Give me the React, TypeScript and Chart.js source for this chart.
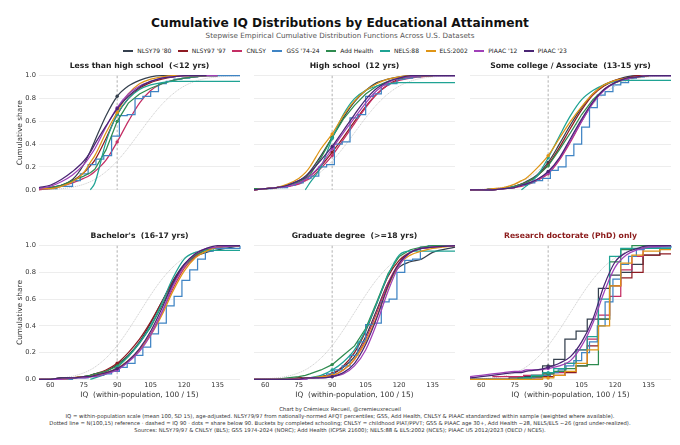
import React, { useEffect, useRef } from 'react';
import { Chart, registerables, Plugin } from 'chart.js';

Chart.register(...registerables);

const FONT = "'DejaVu Sans', 'Liberation Sans', sans-serif";

// common IQ grid the ECDFs are read on (GSS vocabulary has its own coarse steps)
const IQ_GRID = [55, 60, 65, 70, 75, 78, 80, 85, 90, 95, 100, 105, 110, 115, 120, 125, 130, 135, 145];
const GSS_IQ = [56, 63, 70, 73.5, 77, 80.5, 84, 87.5, 91, 94.5, 98, 101.5, 105, 108.5, 112, 115.5, 119, 122.5, 126, 129.5, 133, 145];
const X_TICKS = [60, 75, 90, 105, 120, 135];
const Y_TICKS = [0, 0.2, 0.4, 0.6, 0.8, 1.0];
const CUTOFF_IQ = 90;

const SERIES_NAMES = ["NLSY79 '80", "NLSY97 '97", 'CNLSY', "GSS '74-24", 'Add Health', 'NELS:88', 'ELS:2002', "PIAAC '12", "PIAAC '23"];
const SERIES_COLORS = ['#35404e', '#8e1b22', '#c42e64', '#3f84c4', '#2e8b4f', '#1fa394', '#df9516', '#a040b8', '#4a2574'];

// N(100,15) reference, on IQ_GRID
const NORMAL_REF = [0.001, 0.004, 0.01, 0.023, 0.048, 0.071, 0.091, 0.159, 0.252, 0.369, 0.5, 0.631, 0.748, 0.841, 0.909, 0.952, 0.977, 0.99, 0.999];

// rows follow SERIES_NAMES; row 3 (GSS) is on GSS_IQ, the rest on IQ_GRID
const LESS_THAN_HS = [
  [0.01, 0.02, 0.04, 0.09, 0.22, 0.34, 0.43, 0.65, 0.82, 0.91, 0.96, 0.99, 1.0, 1.0, 1.0, 1.0, 1.0, null, null],
  [0.01, 0.02, 0.04, 0.08, 0.15, 0.21, 0.26, 0.45, 0.66, 0.8, 0.89, 0.94, 0.97, 0.99, 1.0, 1.0, 1.0, 1.0, null],
  [0.0, 0.01, 0.03, 0.06, 0.1, 0.13, 0.16, 0.26, 0.42, 0.6, 0.76, 0.87, 0.93, 0.96, 0.98, 0.99, 1.0, 1.0, null],
  [0.01, 0.03, 0.08, 0.14, 0.22, 0.27, 0.3, 0.47, 0.65, 0.66, 0.8, 0.82, 0.86, 0.93, 0.95, 0.97, 0.98, 0.99, 1.0, 1.0, 1.0, 1.0],
  [0.01, 0.02, 0.04, 0.08, 0.12, 0.15, 0.18, 0.35, 0.6, 0.76, 0.84, 0.89, 0.93, 0.96, 0.98, 0.99, 1.0, 1.0, null],
  [null, null, null, null, null, 0.0, 0.06, 0.42, 0.66, 0.8, 0.88, 0.92, 0.94, 0.95, 0.95, 0.95, 0.95, 0.95, 0.95],
  [0.01, 0.01, 0.03, 0.07, 0.15, 0.24, 0.3, 0.5, 0.68, 0.84, 0.93, 0.97, 0.99, 1.0, 1.0, 1.0, 1.0, null, null],
  [0.01, 0.03, 0.07, 0.13, 0.22, 0.3, 0.36, 0.55, 0.72, 0.84, 0.91, 0.95, 0.98, 0.99, 1.0, 1.0, 1.0, 1.0, null],
  [0.02, 0.04, 0.09, 0.16, 0.25, 0.33, 0.4, 0.56, 0.71, 0.82, 0.9, 0.95, 0.98, 0.99, 1.0, 1.0, 1.0, null, null],
];

const HIGH_SCHOOL = [
  [0.0, 0.01, 0.02, 0.04, 0.08, 0.12, 0.16, 0.3, 0.46, 0.63, 0.77, 0.87, 0.94, 0.97, 0.99, 1.0, 1.0, 1.0, null],
  [0.0, 0.01, 0.02, 0.03, 0.06, 0.09, 0.12, 0.21, 0.33, 0.46, 0.6, 0.73, 0.84, 0.92, 0.97, 0.99, 1.0, 1.0, null],
  [0.0, 0.01, 0.02, 0.03, 0.05, 0.08, 0.1, 0.19, 0.3, 0.44, 0.58, 0.72, 0.84, 0.92, 0.96, 0.98, 0.99, 1.0, 1.0],
  [0.01, 0.02, 0.04, 0.06, 0.1, 0.12, 0.2, 0.22, 0.4, 0.42, 0.63, 0.66, 0.82, 0.84, 0.92, 0.93, 0.97, 0.98, 0.99, 1.0, 1.0, 1.0],
  [0.01, 0.01, 0.02, 0.04, 0.07, 0.1, 0.13, 0.28, 0.46, 0.62, 0.74, 0.84, 0.91, 0.95, 0.98, 0.99, 1.0, 1.0, null],
  [null, null, null, null, null, 0.0, 0.06, 0.2, 0.45, 0.66, 0.8, 0.87, 0.91, 0.93, 0.94, 0.94, 0.94, 0.94, 0.94],
  [0.0, 0.01, 0.02, 0.05, 0.1, 0.15, 0.2, 0.36, 0.49, 0.65, 0.78, 0.87, 0.93, 0.97, 0.99, 1.0, 1.0, 1.0, null],
  [0.0, 0.01, 0.02, 0.03, 0.06, 0.09, 0.12, 0.22, 0.36, 0.5, 0.63, 0.76, 0.87, 0.94, 0.98, 0.99, 1.0, 1.0, 1.0],
  [0.0, 0.01, 0.02, 0.04, 0.08, 0.11, 0.15, 0.26, 0.38, 0.52, 0.66, 0.79, 0.89, 0.95, 0.98, 1.0, 1.0, 1.0, 1.0],
];

const SOME_COLLEGE = [
  [0.0, 0.0, 0.0, 0.01, 0.03, 0.05, 0.07, 0.13, 0.24, 0.4, 0.57, 0.72, 0.84, 0.92, 0.96, 0.99, 1.0, 1.0, null],
  [0.0, 0.0, 0.0, 0.01, 0.03, 0.05, 0.06, 0.12, 0.22, 0.37, 0.54, 0.7, 0.83, 0.91, 0.96, 0.98, 1.0, 1.0, null],
  [0.0, 0.0, 0.0, 0.01, 0.02, 0.03, 0.04, 0.08, 0.14, 0.26, 0.42, 0.6, 0.76, 0.88, 0.94, 0.97, 0.99, 1.0, 1.0],
  [0.0, 0.01, 0.02, 0.03, 0.04, 0.06, 0.08, 0.1, 0.17, 0.2, 0.3, 0.4, 0.55, 0.72, 0.83, 0.86, 0.92, 0.94, 0.98, 0.99, 1.0, 1.0],
  [0.0, 0.0, 0.0, 0.01, 0.03, 0.05, 0.06, 0.12, 0.21, 0.35, 0.5, 0.66, 0.79, 0.88, 0.94, 0.97, 0.99, 1.0, null],
  [null, null, null, null, null, 0.0, 0.03, 0.12, 0.28, 0.47, 0.65, 0.79, 0.87, 0.92, 0.95, 0.96, 0.96, 0.96, 0.96],
  [0.0, 0.0, 0.01, 0.02, 0.05, 0.08, 0.1, 0.19, 0.3, 0.45, 0.6, 0.73, 0.84, 0.92, 0.96, 0.98, 0.99, 1.0, null],
  [0.0, 0.0, 0.0, 0.01, 0.02, 0.04, 0.05, 0.09, 0.15, 0.27, 0.43, 0.6, 0.76, 0.87, 0.94, 0.97, 0.99, 1.0, 1.0],
  [0.0, 0.0, 0.0, 0.01, 0.02, 0.04, 0.05, 0.09, 0.16, 0.28, 0.45, 0.62, 0.77, 0.88, 0.94, 0.98, 0.99, 1.0, 1.0],
];

const BACHELORS = [
  [0.0, 0.0, 0.01, 0.01, 0.02, 0.03, 0.04, 0.06, 0.11, 0.18, 0.28, 0.42, 0.58, 0.74, 0.86, 0.92, 0.95, 0.97, 1.0],
  [0.0, 0.0, 0.01, 0.01, 0.02, 0.03, 0.04, 0.07, 0.12, 0.2, 0.3, 0.43, 0.58, 0.73, 0.85, 0.93, 0.97, 0.99, 1.0],
  [0.0, 0.0, 0.0, 0.01, 0.02, 0.02, 0.03, 0.05, 0.08, 0.14, 0.22, 0.34, 0.5, 0.68, 0.83, 0.92, 0.97, 0.99, 1.0],
  [0.0, 0.0, 0.01, 0.01, 0.02, 0.03, 0.04, 0.06, 0.09, 0.12, 0.18, 0.24, 0.34, 0.42, 0.55, 0.62, 0.74, 0.82, 0.9, 0.96, 0.98, 1.0],
  [0.0, 0.0, 0.01, 0.01, 0.02, 0.03, 0.04, 0.06, 0.1, 0.17, 0.27, 0.39, 0.55, 0.72, 0.85, 0.93, 0.97, 0.99, 1.0],
  [null, null, null, null, null, 0.0, 0.01, 0.04, 0.09, 0.17, 0.27, 0.4, 0.57, 0.76, 0.9, 0.95, 0.965, 0.965, 0.965],
  [0.0, 0.0, 0.0, 0.01, 0.02, 0.02, 0.03, 0.05, 0.08, 0.14, 0.22, 0.33, 0.48, 0.66, 0.81, 0.91, 0.96, 0.99, 1.0],
  [0.0, 0.0, 0.0, 0.01, 0.01, 0.02, 0.02, 0.04, 0.07, 0.13, 0.21, 0.33, 0.5, 0.7, 0.85, 0.94, 0.98, 0.99, 1.0],
  [0.0, 0.0, 0.01, 0.01, 0.02, 0.02, 0.03, 0.05, 0.08, 0.14, 0.23, 0.36, 0.53, 0.72, 0.86, 0.94, 0.98, 1.0, 1.0],
];

const GRADUATE = [
  [0.0, 0.0, 0.0, 0.0, 0.01, 0.01, 0.01, 0.02, 0.04, 0.09, 0.17, 0.32, 0.52, 0.72, 0.84, 0.88, 0.9, 0.95, 0.99],
  [0.0, 0.0, 0.0, 0.0, 0.01, 0.01, 0.01, 0.02, 0.04, 0.1, 0.2, 0.36, 0.57, 0.77, 0.89, 0.95, 0.98, 0.99, 1.0],
  [0.0, 0.0, 0.0, 0.0, 0.0, 0.01, 0.01, 0.02, 0.03, 0.07, 0.15, 0.3, 0.5, 0.72, 0.87, 0.95, 0.98, 0.99, 1.0],
  [0.0, 0.0, 0.0, 0.0, 0.01, 0.01, 0.02, 0.04, 0.07, 0.1, 0.18, 0.28, 0.41, 0.42, 0.58, 0.6, 0.8, 0.89, 0.9, 0.99, 1.0, 1.0],
  [0.0, 0.0, 0.0, 0.01, 0.02, 0.03, 0.04, 0.07, 0.11, 0.18, 0.25, 0.38, 0.58, 0.79, 0.92, 0.97, 0.99, 1.0, 1.0],
  [null, null, null, null, null, 0.0, 0.01, 0.03, 0.07, 0.13, 0.22, 0.37, 0.57, 0.78, 0.93, 0.96, 0.96, 0.96, 0.96],
  [0.0, 0.0, 0.0, 0.0, 0.0, 0.01, 0.01, 0.02, 0.03, 0.07, 0.15, 0.28, 0.47, 0.69, 0.86, 0.93, 0.96, 0.98, 1.0],
  [0.0, 0.0, 0.0, 0.0, 0.0, 0.0, 0.01, 0.01, 0.02, 0.04, 0.1, 0.22, 0.42, 0.66, 0.85, 0.95, 0.98, 0.99, 1.0],
  [0.0, 0.0, 0.0, 0.0, 0.0, 0.01, 0.01, 0.01, 0.02, 0.05, 0.12, 0.26, 0.46, 0.7, 0.87, 0.95, 0.98, 0.99, 1.0],
];

const PHD = [
  [0.0, 0.0, 0.0, 0.0, 0.01, 0.01, 0.02, 0.03, 0.1, 0.15, 0.3, 0.36, 0.45, 0.68, 0.78, 0.8, 0.86, 0.93, 0.98],
  [0.0, 0.0, 0.0, 0.0, 0.0, 0.0, 0.01, 0.01, 0.02, 0.03, 0.05, 0.1, 0.25, 0.45, 0.7, 0.76, 0.8, 0.93, 0.94],
  [null, null, 0.02, 0.02, 0.02, 0.02, 0.03, 0.03, 0.04, 0.05, 0.12, 0.22, 0.3, 0.48, 0.62, 0.82, 0.92, 0.99, 1.0],
  [0.0, 0.0, 0.0, 0.0, 0.01, 0.01, 0.02, 0.03, 0.05, 0.07, 0.1, 0.14, 0.2, 0.28, 0.4, 0.58, 0.75, 0.86, 0.92, 0.97, 0.99, 1.0],
  [0.0, 0.0, 0.0, 0.0, 0.0, 0.01, 0.01, 0.02, 0.04, 0.06, 0.08, 0.1, 0.11, 0.45, 0.88, 0.97, 1.0, 1.0, 1.0],
  [null, null, null, null, null, 0.0, 0.01, 0.03, 0.05, 0.08, 0.12, 0.22, 0.32, 0.6, 0.92, 0.98, 0.98, 0.98, 0.98],
  [0.0, 0.0, 0.0, 0.0, 0.0, 0.0, 0.0, 0.0, 0.01, 0.03, 0.06, 0.12, 0.22, 0.4, 0.7, 0.87, 0.93, 0.96, 0.97],
  [0.02, 0.03, 0.04, 0.05, 0.06, 0.06, 0.07, 0.07, 0.08, 0.1, 0.14, 0.25, 0.42, 0.65, 0.84, 0.93, 0.97, 0.99, 1.0],
  [0.01, 0.02, 0.03, 0.04, 0.05, 0.05, 0.06, 0.07, 0.09, 0.12, 0.17, 0.28, 0.45, 0.7, 0.88, 0.95, 0.98, 1.0, 1.0],
];

const PANEL_TITLES = [
  'Less than high school  (<12 yrs)',
  'High school  (12 yrs)',
  'Some college / Associate  (13-15 yrs)',
  "Bachelor's  (16-17 yrs)",
  'Graduate degree  (>=18 yrs)',
  'Research doctorate (PhD) only',
];
const PANEL_DATA = [LESS_THAN_HS, HIGH_SCHOOL, SOME_COLLEGE, BACHELORS, GRADUATE, PHD];

const FOOTER_LINES = [
  'Chart by Crémieux Recueil, @cremieuxrecueil',
  'IQ = within-population scale (mean 100, SD 15), age-adjusted. NLSY79/97 from nationally-normed AFQT percentiles; GSS, Add Health, CNLSY & PIAAC standardized within sample (weighted where available).',
  'Dotted line = N(100,15) reference · dashed = IQ 90 · dots = share below 90. Buckets by completed schooling; CNLSY = childhood PIAT/PPVT; GSS & PIAAC age 30+, Add Health ~28, NELS/ELS ~26 (grad under-realized).',
  'Sources: NLSY79/97 & CNLSY (BLS); GSS 1974-2024 (NORC); Add Health (ICPSR 21600); NELS:88 & ELS:2002 (NCES); PIAAC US 2012/2023 (OECD / NCES).',
];

// panel boxes on the page
const COL_LEFT = [0, 250, 466];
const COL_WIDTH = [244, 209, 209];
const ROW_TOP = [59, 229];
const ROW_HEIGHT = [155, 173];

const cutoffLine: Plugin = {
  id: 'cutoffLine',
  beforeDatasetsDraw(chart) {
    const { ctx, chartArea, scales } = chart;
    const x = scales.x.getPixelForValue(CUTOFF_IQ);
    ctx.save();
    ctx.strokeStyle = '#a8a8a8';
    ctx.lineWidth = 0.9;
    ctx.setLineDash([2.5, 2]);
    ctx.beginPath();
    ctx.moveTo(x, chartArea.top);
    ctx.lineTo(x, chartArea.bottom);
    ctx.stroke();
    ctx.restore();
  },
};

function buildDatasets(rows: (number | null)[][], smallSample: boolean) {
  const series = rows.map((row, s) => {
    const xs = s === 3 ? GSS_IQ : IQ_GRID;
    const pts = xs.map((x, i) => ({ x, y: row[i] })).filter((p) => p.y !== null);
    let stepped: any = false;
    if (s === 3) stepped = 'before';
    else if (smallSample && s < 7) stepped = 'middle';
    return {
      label: SERIES_NAMES[s],
      data: pts,
      borderColor: SERIES_COLORS[s],
      backgroundColor: SERIES_COLORS[s],
      borderWidth: 1.25,
      stepped,
      cubicInterpolationMode: s === 4 ? 'default' : 'monotone',
      tension: 0,
      pointRadius: (ctx: any) => (ctx.raw && ctx.raw.x === CUTOFF_IQ ? 1.7 : 0),
      pointBorderWidth: 0,
      pointHoverRadius: 0,
      clip: 4,
    };
  });
  // matplotlib draws later series on top; Chart.js draws the first dataset on top
  const sets: any[] = series.reverse();
  sets.push({
    label: 'N(100,15)',
    data: IQ_GRID.map((x, i) => ({ x, y: NORMAL_REF[i] })),
    borderColor: '#c4c4c4',
    borderWidth: 0.8,
    borderDash: [1.2, 0.8],
    cubicInterpolationMode: 'monotone',
    pointRadius: 0,
    clip: 4,
  });
  return sets;
}

function Panel({ idx }: { idx: number }) {
  const canvasRef = useRef<HTMLCanvasElement>(null);
  const chartRef = useRef<Chart | null>(null);
  const col = idx % 3;
  const row = Math.floor(idx / 3);
  const leftCol = col === 0;
  const bottomRow = row === 1;

  useEffect(() => {
    if (!canvasRef.current) return;
    if (chartRef.current) chartRef.current.destroy();

    chartRef.current = new Chart(canvasRef.current, {
      type: 'line',
      data: { datasets: buildDatasets(PANEL_DATA[idx], idx === 5) },
      options: {
        responsive: true,
        maintainAspectRatio: false,
        animation: false,
        events: [],
        layout: { padding: { left: 0, right: 4, top: 0, bottom: bottomRow ? 2.5 : 4 } },
        plugins: {
          legend: { display: false },
          tooltip: { enabled: false },
          title: {
            display: true,
            text: PANEL_TITLES[idx],
            color: idx === 5 ? '#8b1a1a' : '#222',
            fullSize: false,
            font: { family: FONT, size: 7.7, weight: 'bold' },
            padding: { top: 2, bottom: 5.5 },
          },
        },
        scales: {
          x: {
            type: 'linear',
            min: 55,
            max: 145,
            display: bottomRow,
            afterBuildTicks: (s: any) => {
              s.ticks = X_TICKS.map((v) => ({ value: v }));
            },
            afterFit: (s: any) => {
              s.height = 20.2;
            },
            grid: { display: false, drawTicks: false },
            border: { display: false },
            ticks: {
              font: { family: FONT, size: 6.7 },
              color: '#333',
              padding: 2,
              maxRotation: 0,
              autoSkip: false,
            },
            title: {
              display: true,
              text: 'IQ  (within-population, 100 / 15)',
              color: '#333',
              font: { family: FONT, size: 7.4 },
              padding: { top: 0, bottom: 0 },
            },
          },
          y: {
            type: 'linear',
            min: 0,
            max: 1,
            afterBuildTicks: (s: any) => {
              s.ticks = Y_TICKS.map((v) => ({ value: v }));
            },
            afterFit: (s: any) => {
              s.width = leftCol ? 39 : 4;
            },
            grid: { color: '#e9e9e9', lineWidth: 0.8, drawTicks: false },
            border: { display: false },
            ticks: {
              display: leftCol,
              font: { family: FONT, size: 6.7 },
              color: '#333',
              padding: 3,
              callback: (v: any) => Number(v).toFixed(1),
            },
            title: {
              display: leftCol,
              text: 'Cumulative share',
              color: '#333',
              font: { family: FONT, size: 7.4 },
              padding: { top: 15.5, bottom: 0 },
            },
          },
        },
      },
      plugins: [cutoffLine],
    } as any);

    return () => {
      if (chartRef.current) {
        chartRef.current.destroy();
        chartRef.current = null;
      }
    };
  }, [idx]);

  return (
    <div
      style={{
        position: 'absolute',
        left: COL_LEFT[col],
        top: ROW_TOP[row],
        width: COL_WIDTH[col],
        height: ROW_HEIGHT[row],
      }}
    >
      <canvas ref={canvasRef} />
    </div>
  );
}

export default function App() {
  return (
    <div
      style={{
        position: 'fixed',
        left: 0,
        top: 0,
        width: 680,
        height: 445,
        background: '#fff',
        fontFamily: FONT,
        overflow: 'hidden',
      }}
    >
      <div
        style={{
          position: 'absolute',
          top: 16,
          width: 680,
          textAlign: 'center',
          fontSize: 12.2,
          lineHeight: '14px',
          fontWeight: 'bold',
          color: '#111',
        }}
      >
        Cumulative IQ Distributions by Educational Attainment
      </div>
      <div
        style={{
          position: 'absolute',
          top: 31,
          width: 680,
          textAlign: 'center',
          fontSize: 7.2,
          lineHeight: '9px',
          color: '#555',
        }}
      >
        Stepwise Empirical Cumulative Distribution Functions Across U.S. Datasets
      </div>
      <div
        style={{
          position: 'absolute',
          top: 47,
          left: 10,
          width: 670,
          display: 'flex',
          justifyContent: 'center',
          fontSize: 6,
          lineHeight: '8px',
          color: '#222',
        }}
      >
        {SERIES_NAMES.map((name, i) => (
          <span key={name} style={{ display: 'inline-flex', alignItems: 'center', marginRight: i < SERIES_NAMES.length - 1 ? 6.5 : 0 }}>
            <span style={{ display: 'inline-block', width: 10, height: 1.8, background: SERIES_COLORS[i], marginRight: 4 }} />
            {name}
          </span>
        ))}
      </div>
      {PANEL_TITLES.map((t, i) => (
        <Panel key={t} idx={i} />
      ))}
      <div
        style={{
          position: 'absolute',
          top: 405.6,
          width: 680,
          textAlign: 'center',
          fontSize: 5.3,
          lineHeight: '7.3px',
          color: '#333',
          whiteSpace: 'nowrap',
        }}
      >
        {FOOTER_LINES.map((l) => (
          <div key={l}>{l}</div>
        ))}
      </div>
    </div>
  );
}
